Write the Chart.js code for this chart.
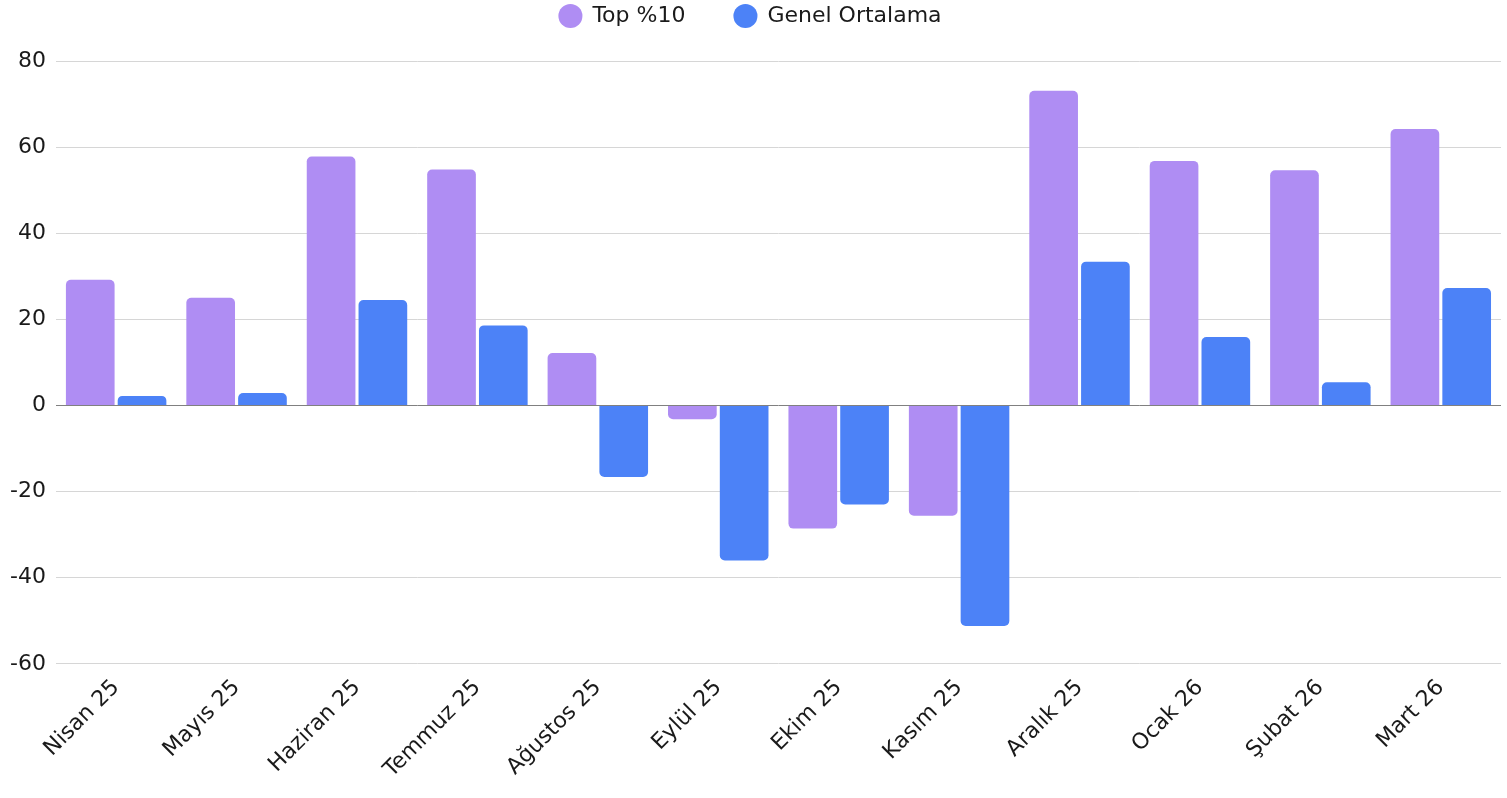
<!DOCTYPE html>
<html>
<head>
<meta charset="utf-8">
<script src="https://cdn.jsdelivr.net/npm/chart.js@4"></script>
<style>
  html, body { margin: 0; padding: 0; background: #fff; }
  #wrap { width: 1507px; height: 798px; }
</style>
</head>
<body>
<div id="wrap"><canvas id="myBarChart"></canvas></div>
<script>
  const months = ["Nisan 25", "Mayıs 25", "Haziran 25", "Temmuz 25", "Ağustos 25", "Eylül 25",
                  "Ekim 25", "Kasım 25", "Aralık 25", "Ocak 26", "Şubat 26", "Mart 26"];
  const top10 = [29.2, 25, 57.8, 54.8, 12.2, -3.2, -28.6, -25.6, 73.1, 56.8, 54.6, 64.2];
  const genelOrtalama = [2.2, 2.9, 24.5, 18.6, -16.6, -36, -23, -51.2, 33.4, 15.9, 5.4, 27.3];
  const yTicks = [-60, -40, -20, 0, 20, 40, 60, 80];

  Chart.defaults.font.family = "'DejaVu Sans', sans-serif";
  Chart.defaults.color = '#1a1a1a';

  // legend sits close to the top edge, so give the box its own height tweak
  const legendSpace = {
    id: 'legendSpace',
    beforeInit(chart) {
      const fit = chart.legend.fit;
      chart.legend.fit = function() {
        fit.bind(chart.legend)();
        this.height += 24;
      };
    }
  };

  const ctx = document.getElementById("myBarChart");
  const myBarChart = new Chart(ctx, {
    type: 'bar',
    data: {
      labels: months,
      datasets: [{
        label: 'Top %10',
        data: top10,
        backgroundColor: '#AF8DF3',
        borderRadius: 5,
        barPercentage: 0.94,
        categoryPercentage: 0.86
      }, {
        label: 'Genel Ortalama',
        data: genelOrtalama,
        backgroundColor: '#4C82F7',
        borderRadius: 5,
        barPercentage: 0.94,
        categoryPercentage: 0.86
      }]
    },
    plugins: [legendSpace],
    options: {
      responsive: true,
      maintainAspectRatio: false,
      animation: false,
      layout: { padding: { right: 6, left: 0, top: -44, bottom: 12 } },
      plugins: {
        legend: {
          position: 'top',
          labels: {
            usePointStyle: true,
            pointStyle: 'circle',
            boxHeight: 17,
            font: { size: 22 },
            padding: 49
          }
        },
        tooltip: { enabled: false }
      },
      scales: {
        x: {
          grid: { display: false },
          border: { display: false },
          ticks: {
            font: { size: 22 },
            maxRotation: 45,
            minRotation: 45,
            autoSkip: false
          }
        },
        y: {
          min: yTicks[0],
          max: yTicks[yTicks.length - 1],
          border: { display: false },
          afterBuildTicks: function(axis) {
            axis.ticks = yTicks.map(v => ({ value: v }));
          },
          grid: {
            drawTicks: false,
            color: function(c) {
              return c.tick && c.tick.value === 0 ? '#808080' : '#d6d6d6';
            }
          },
          ticks: {
            font: { size: 22 },
            padding: 10
          }
        }
      }
    }
  });
</script>
</body>
</html>
